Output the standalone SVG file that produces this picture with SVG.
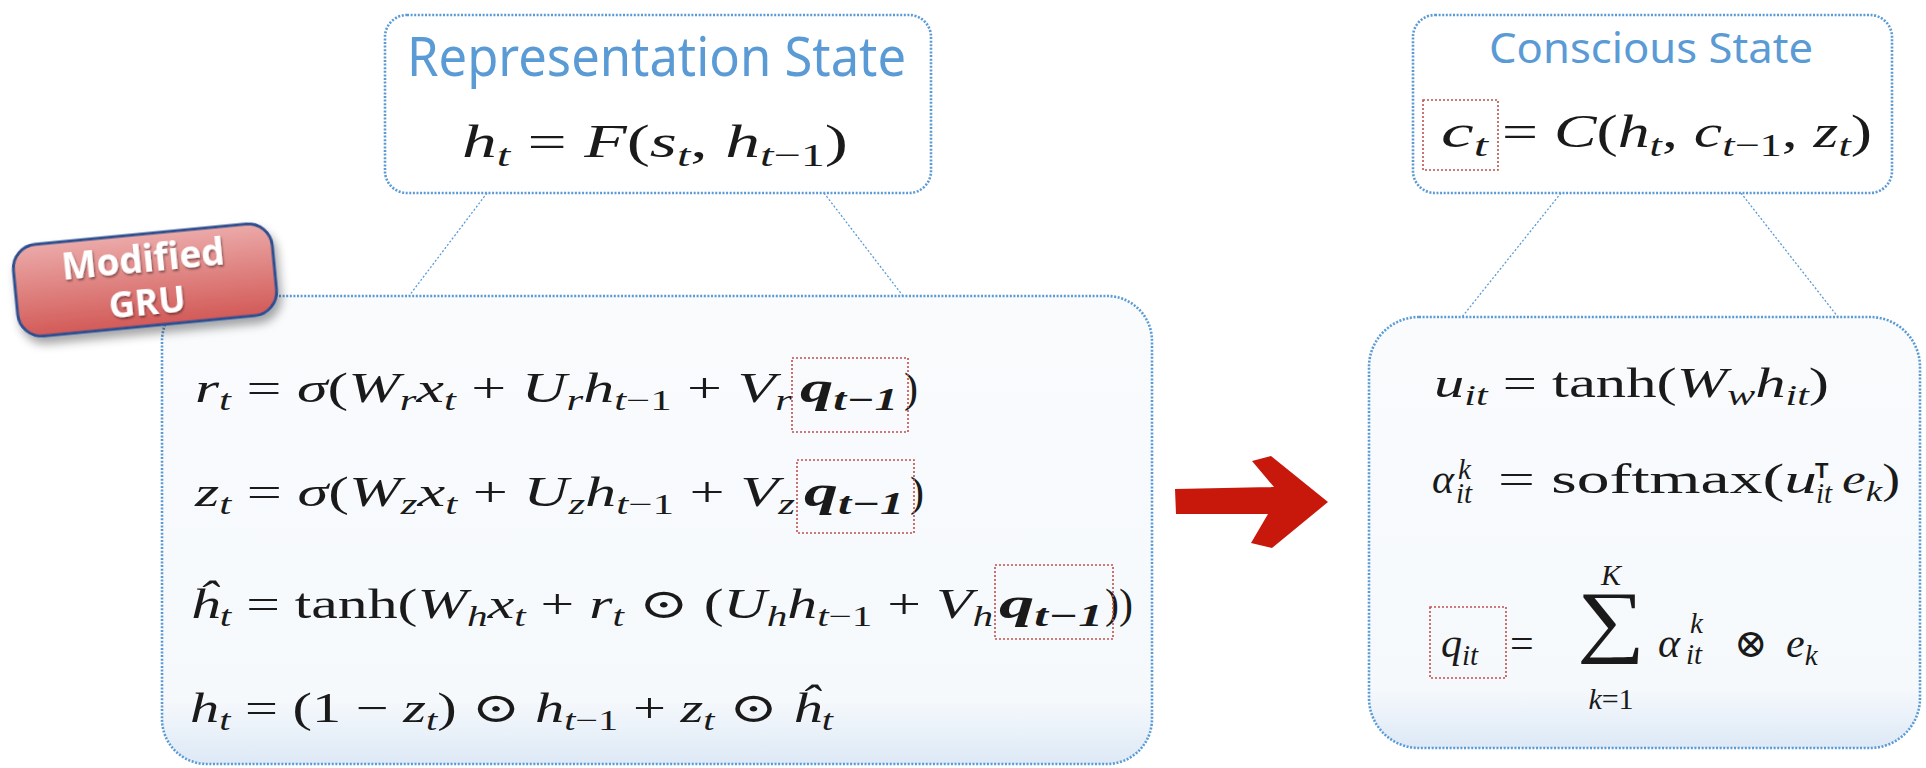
<svg xmlns="http://www.w3.org/2000/svg" width="1926" height="768" viewBox="0 0 1926 768">
<defs>
<linearGradient id="boxfill" x1="0" y1="0" x2="0" y2="1">
<stop offset="0" stop-color="#F9FBFD"/>
<stop offset="0.86" stop-color="#F6F9FC"/>
<stop offset="1" stop-color="#DDE9F6"/>
</linearGradient>
<linearGradient id="badgefill" x1="0" y1="0" x2="0" y2="1">
<stop offset="0" stop-color="#EBAAA9"/>
<stop offset="1" stop-color="#D25A57"/>
</linearGradient>
<filter id="shadow" x="-20%" y="-20%" width="140%" height="160%">
<feDropShadow dx="3" dy="7" stdDeviation="5" flood-color="#000" flood-opacity="0.35"/>
</filter>
<filter id="tshadow" x="-10%" y="-20%" width="120%" height="150%">
<feDropShadow dx="1" dy="2" stdDeviation="1" flood-color="#000" flood-opacity="0.45"/>
</filter>
</defs>
<style>
.box{fill:#FFFFFF;stroke:#5B9BD5;stroke-width:2.6;stroke-dasharray:2 1.6}
.bigbox{fill:url(#boxfill);stroke:#5B9BD5;stroke-width:2.6;stroke-dasharray:2 1.6}
.conn{fill:none;stroke:#5B9BD5;stroke-width:1.3;stroke-dasharray:2 2}
.hl{fill:none;stroke:#C0504D;stroke-width:1.6;stroke-dasharray:2 2}
.title{font-family:"Noto Sans","Liberation Sans",sans-serif;fill:#5B9BD5}
.m{font-family:"Liberation Serif","DejaVu Serif",serif;fill:#1A1A1A}
.i{font-style:italic}
.b{font-style:italic;font-weight:bold}
.badge-t{font-family:"Open Sans","Liberation Sans",sans-serif;font-weight:bold;fill:#FFFFFF;text-anchor:middle}
</style>

<g id="connectors">
<line class="conn" x1="487" y1="193" x2="409" y2="296"/>
<line class="conn" x1="824" y1="193" x2="903" y2="296"/>
<line class="conn" x1="1561" y1="193" x2="1462" y2="317"/>
<line class="conn" x1="1741" y1="193" x2="1838" y2="317"/>
<polygon id="arrow" fill="#C8180B" points="1175,489 1274,487 1252,461 1271,456 1328,502 1272,548 1251,543 1268,514 1176,514"/>
</g>

<g id="representation-state">
<rect class="box" x="385" y="15" width="546" height="178" rx="22"/>
<text class="title" x="407" y="76" font-size="54" textLength="499" lengthAdjust="spacingAndGlyphs">Representation State</text>
<text class="m" x="462" y="157" font-size="46" textLength="386" lengthAdjust="spacingAndGlyphs"><tspan class="i">h</tspan><tspan class="i" font-size="32" dy="9">t</tspan><tspan dy="-9"> = </tspan><tspan class="i">F</tspan>(<tspan class="i">s</tspan><tspan class="i" font-size="32" dy="9">t</tspan><tspan dy="-9">, </tspan><tspan class="i">h</tspan><tspan class="i" font-size="32" dy="9">t</tspan><tspan font-size="32">−1</tspan><tspan dy="-9">)</tspan></text>
</g>

<g id="conscious-state">
<rect class="box" x="1413" y="15" width="479" height="178" rx="22"/>
<text class="title" x="1489" y="63" font-size="42" textLength="324" lengthAdjust="spacingAndGlyphs">Conscious State</text>
<rect class="hl" x="1423" y="100" width="75" height="70"/>
<text class="m" x="1441" y="147" font-size="46" textLength="47" lengthAdjust="spacingAndGlyphs"><tspan class="i">c</tspan><tspan class="i" font-size="32" dy="9">t</tspan></text>
<text class="m" x="1502" y="147" font-size="46" textLength="370" lengthAdjust="spacingAndGlyphs">= <tspan class="i">C</tspan>(<tspan class="i">h</tspan><tspan class="i" font-size="32" dy="9">t</tspan><tspan dy="-9">, </tspan><tspan class="i">c</tspan><tspan class="i" font-size="32" dy="9">t</tspan><tspan font-size="32">−1</tspan><tspan dy="-9">, </tspan><tspan class="i">z</tspan><tspan class="i" font-size="32" dy="9">t</tspan><tspan dy="-9">)</tspan></text>
</g>

<g id="modified-gru">
<rect class="bigbox" x="162" y="296" width="990" height="468" rx="45"/>
<text class="m" x="195" y="402" font-size="42" textLength="597" lengthAdjust="spacingAndGlyphs"><tspan class="i">r</tspan><tspan class="i" font-size="29" dy="8">t</tspan><tspan dy="-8"> = </tspan><tspan class="i">σ</tspan>(<tspan class="i">W</tspan><tspan class="i" font-size="29" dy="8">r</tspan><tspan class="i" dy="-8">x</tspan><tspan class="i" font-size="29" dy="8">t</tspan><tspan dy="-8"> + </tspan><tspan class="i">U</tspan><tspan class="i" font-size="29" dy="8">r</tspan><tspan class="i" dy="-8">h</tspan><tspan class="i" font-size="29" dy="8">t</tspan><tspan font-size="29">−1</tspan><tspan dy="-8"> + </tspan><tspan class="i">V</tspan><tspan class="i" font-size="29" dy="8">r</tspan></text>
<text class="m b" x="800" y="402" font-size="44" textLength="98" lengthAdjust="spacingAndGlyphs">q<tspan font-size="31" dy="8">t−1</tspan></text>
<text class="m" x="904" y="402" font-size="42">)</text>
<rect class="hl" x="792" y="358" width="116" height="74"/>

<text class="m" x="195" y="506" font-size="42" textLength="600" lengthAdjust="spacingAndGlyphs"><tspan class="i">z</tspan><tspan class="i" font-size="29" dy="8">t</tspan><tspan dy="-8"> = </tspan><tspan class="i">σ</tspan>(<tspan class="i">W</tspan><tspan class="i" font-size="29" dy="8">z</tspan><tspan class="i" dy="-8">x</tspan><tspan class="i" font-size="29" dy="8">t</tspan><tspan dy="-8"> + </tspan><tspan class="i">U</tspan><tspan class="i" font-size="29" dy="8">z</tspan><tspan class="i" dy="-8">h</tspan><tspan class="i" font-size="29" dy="8">t</tspan><tspan font-size="29">−1</tspan><tspan dy="-8"> + </tspan><tspan class="i">V</tspan><tspan class="i" font-size="29" dy="8">z</tspan></text>
<text class="m b" x="804" y="506" font-size="44" textLength="100" lengthAdjust="spacingAndGlyphs">q<tspan font-size="31" dy="8">t−1</tspan></text>
<text class="m" x="910" y="506" font-size="42">)</text>
<rect class="hl" x="797" y="460" width="117" height="73"/>

<text class="m" x="190" y="618" font-size="42" textLength="803" lengthAdjust="spacingAndGlyphs"><tspan class="i">ĥ</tspan><tspan class="i" font-size="29" dy="8">t</tspan><tspan dy="-8"> = tanh(</tspan><tspan class="i">W</tspan><tspan class="i" font-size="29" dy="8">h</tspan><tspan class="i" dy="-8">x</tspan><tspan class="i" font-size="29" dy="8">t</tspan><tspan dy="-8"> + </tspan><tspan class="i">r</tspan><tspan class="i" font-size="29" dy="8">t</tspan><tspan dy="-8"> ⊙ (</tspan><tspan class="i">U</tspan><tspan class="i" font-size="29" dy="8">h</tspan><tspan class="i" dy="-8">h</tspan><tspan class="i" font-size="29" dy="8">t</tspan><tspan font-size="29">−1</tspan><tspan dy="-8"> + </tspan><tspan class="i">V</tspan><tspan class="i" font-size="29" dy="8">h</tspan></text>
<text class="m b" x="999" y="618" font-size="44" textLength="104" lengthAdjust="spacingAndGlyphs">q<tspan font-size="31" dy="8">t−1</tspan></text>
<text class="m" x="1105" y="618" font-size="42">))</text>
<rect class="hl" x="995" y="565" width="118" height="74"/>

<text class="m" x="190" y="722" font-size="42" textLength="643" lengthAdjust="spacingAndGlyphs"><tspan class="i">h</tspan><tspan class="i" font-size="29" dy="8">t</tspan><tspan dy="-8"> = (1 − </tspan><tspan class="i">z</tspan><tspan class="i" font-size="29" dy="8">t</tspan><tspan dy="-8">) ⊙ </tspan><tspan class="i">h</tspan><tspan class="i" font-size="29" dy="8">t</tspan><tspan font-size="29">−1</tspan><tspan dy="-8"> + </tspan><tspan class="i">z</tspan><tspan class="i" font-size="29" dy="8">t</tspan><tspan dy="-8"> ⊙ </tspan><tspan class="i">ĥ</tspan><tspan class="i" font-size="29" dy="8">t</tspan></text>

<g id="badge" transform="translate(145,280) rotate(-5.5)">
<rect x="-130" y="-46" width="260" height="92" rx="24" fill="url(#badgefill)" stroke="#2E4F8E" stroke-width="3" filter="url(#shadow)"/>
<text class="badge-t" x="0" y="-8" font-size="37" filter="url(#tshadow)">Modified</text>
<text class="badge-t" x="0" y="35" font-size="36" filter="url(#tshadow)">GRU</text>
</g>
</g>

<g id="attention">
<rect class="bigbox" x="1369" y="317" width="551" height="431" rx="50"/>
<text class="m" x="1434" y="397" font-size="42" textLength="395" lengthAdjust="spacingAndGlyphs"><tspan class="i">u</tspan><tspan class="i" font-size="29" dy="8">it</tspan><tspan dy="-8"> = tanh(</tspan><tspan class="i">W</tspan><tspan class="i" font-size="29" dy="8">w</tspan><tspan class="i" dy="-8">h</tspan><tspan class="i" font-size="29" dy="8">it</tspan><tspan dy="-8">)</tspan></text>

<text class="m i" x="1432" y="493" font-size="42">α</text>
<text class="m i" x="1458" y="479" font-size="29">k</text>
<text class="m i" x="1456" y="503" font-size="29">it</text>
<text class="m" x="1498" y="493" font-size="42" textLength="319" lengthAdjust="spacingAndGlyphs">= softmax(<tspan class="i">u</tspan></text>
<text x="1815" y="478" font-size="22" font-family="Liberation Sans, sans-serif" font-weight="bold" fill="#1A1A1A">T</text>
<text class="m i" x="1816" y="503" font-size="29">it</text>
<text class="m" x="1842" y="493" font-size="42" textLength="58" lengthAdjust="spacingAndGlyphs"><tspan class="i">e</tspan><tspan class="i" font-size="29" dy="8">k</tspan><tspan dy="-8">)</tspan></text>

<rect class="hl" x="1430" y="607" width="76" height="71"/>
<text class="m" x="1441" y="657" font-size="42"><tspan class="i">q</tspan><tspan class="i" font-size="29" dy="8">it</tspan></text>
<text class="m" x="1510" y="657" font-size="42">=</text>
<text class="m" x="1577" y="647" font-size="80" textLength="68" lengthAdjust="spacingAndGlyphs">∑</text>
<text class="m i" x="1611" y="585" font-size="30" text-anchor="middle">K</text>
<text class="m" x="1611" y="709" font-size="30" text-anchor="middle"><tspan class="i">k</tspan>=1</text>
<text class="m i" x="1658" y="657" font-size="42">α</text>
<text class="m i" x="1690" y="633" font-size="29">k</text>
<text class="m i" x="1686" y="664" font-size="29">it</text>
<text class="m" x="1734" y="657" font-size="40">⊗</text>
<text class="m" x="1786" y="657" font-size="42"><tspan class="i">e</tspan><tspan class="i" font-size="29" dy="8">k</tspan></text>
</g>
</svg>
